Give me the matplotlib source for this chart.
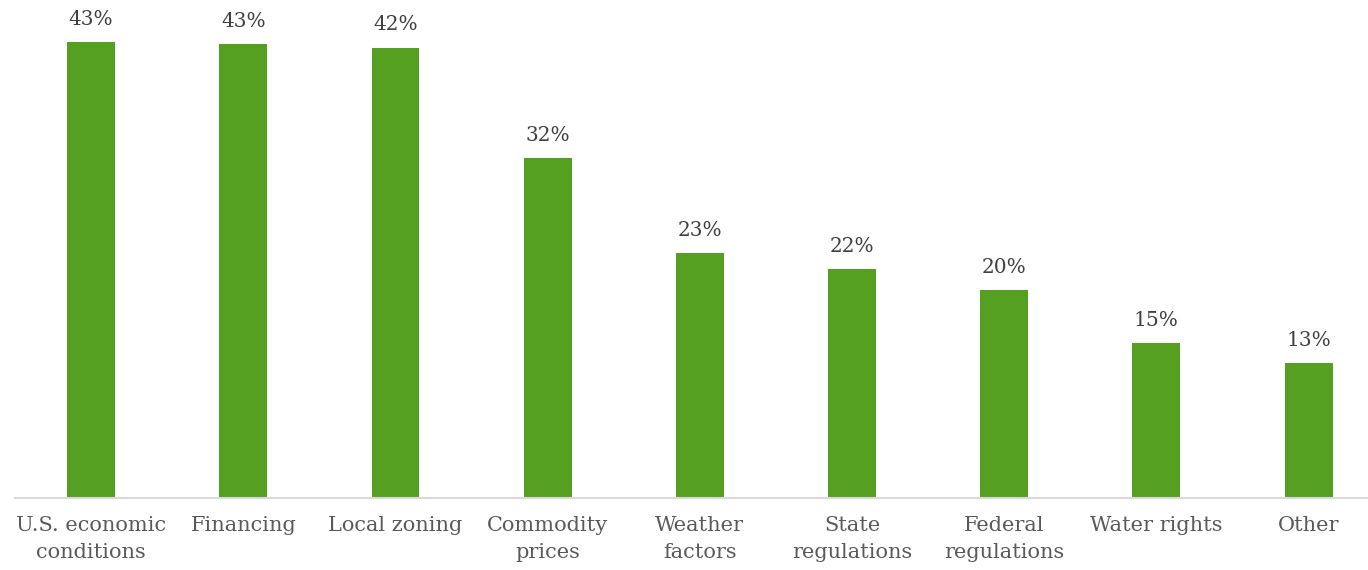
import matplotlib
matplotlib.use("Agg")
import matplotlib.pyplot as plt

categories = ["U.S. economic\nconditions", "Financing", "Local zoning", "Commodity\nprices",
              "Weather\nfactors", "State\nregulations", "Federal\nregulations", "Water rights", "Other"]
values = [43.0, 42.8, 42.5, 32.1, 23.1, 21.6, 19.6, 14.6, 12.7]

BAR = "#55a021"
TXT = "#404040"
TICK = "#595959"
FONT = ["DejaVu Serif"]

fig = plt.figure(figsize=(13.68, 5.70), dpi=100)
ax = fig.add_axes([15 / 1368, 1 - 498 / 570, 1 - 15 / 1368, 498 / 570])
x = list(range(len(categories)))
bars = ax.bar(x, values, width=0.315, color=BAR, zorder=2)
for b, v in zip(bars, values):
    ax.annotate(f"{v:.0f}%", (b.get_x() + b.get_width() / 2, v), xytext=(0, 9.5),
                textcoords="offset points", ha="center", va="bottom",
                fontsize=14.5, color=TXT, family=FONT)

ax.set_xlim(-0.5, (1368 - 91) / 152.2)
ax.set_ylim(0, 498 / (455.7 / 43.0))
ax.set_xticks(x)
ax.set_xticklabels(categories, fontsize=15, color=TICK, family=FONT, linespacing=1.55)
ax.tick_params(axis="x", length=0, pad=13)
ax.set_yticks([])
for s in ["top", "right", "left"]:
    ax.spines[s].set_visible(False)
ax.spines["bottom"].set_color("#d9d9d9")
ax.spines["bottom"].set_linewidth(1.5)
fig.savefig("out.png", dpi=100)
